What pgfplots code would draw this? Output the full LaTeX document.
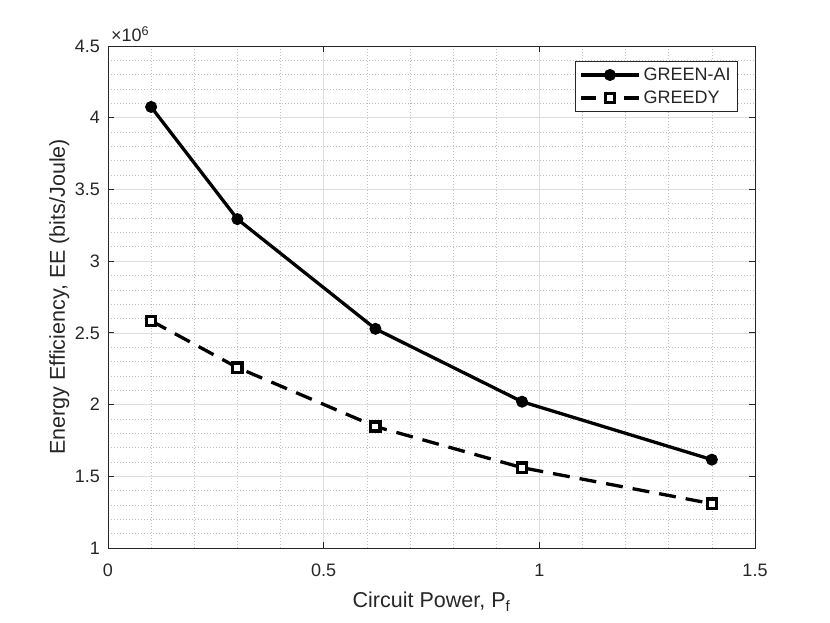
\documentclass[border=0pt]{standalone}
\usepackage{pgfplots}
\pgfplotsset{compat=1.18}
\usepackage{fontspec}
\setmainfont{Liberation Sans}
\definecolor{axc}{HTML}{262626}
\pgfplotsset{
  greedy legend/.style={legend image code/.code={%
    \draw[##1, solid] (0bp,0bp)--(15bp,0bp);
    \draw[##1, solid] (43bp,0bp)--(58bp,0bp);
    \draw[##1] plot coordinates {(29bp,0bp)};}},
}
\begin{document}
\begin{tikzpicture}
\useasboundingbox (0,0) rectangle (830bp,623bp);
\begin{axis}[
  at={(108bp,75bp)}, anchor=south west,
  width=647bp, height=502bp, scale only axis,
  xmin=0, xmax=1.5, ymin=1, ymax=4.5,
  xtick={0,0.5,1,1.5}, ytick={1,1.5,2,2.5,3,3.5,4,4.5},
  minor x tick num=4, minor y tick num=4,
  grid=both,
  major grid style={color=black!13, line width=0.6bp},
  minor grid style={color=black!25, line width=0.6bp, dash pattern=on 1bp off 2bp},
  axis line style={color=axc, line width=0.8bp},
  tick style={color=axc, line width=0.8bp},
  major tick length=6bp, minor tick length=0bp,
  tick align=inside,
  clip=false,
  /pgf/number format/assume math mode=true,
  ticklabel style={font=\fontsize{18bp}{20bp}\selectfont, text=axc},
  xticklabel style={anchor=north, inner sep=0pt, yshift=-16bp},
  yticklabel style={anchor=east, inner sep=0pt, xshift=-8bp},
  xlabel={Circuit Power, P\textsubscript{f}},
  xlabel style={at={(axis description cs:0.5,-0.1195)}, anchor=base, font=\fontsize{21.5bp}{25bp}\selectfont, text=axc},
  ylabel={Energy Efficiency, EE (bits/Joule)},
  ylabel style={at={(axis description cs:-0.0665,0.5)}, anchor=base, font=\fontsize{21.5bp}{25bp}\selectfont, text=axc},
  legend style={at={(rel axis cs:0.973,0.97)}, anchor=north east, draw=axc, line width=0.8bp,
    font=\fontsize{18bp}{20bp}\selectfont, text=axc, inner xsep=3.5bp, inner ysep=3.5bp, row sep=3bp,
    nodes={inner sep=3bp}},
  legend cell align=left,
  legend image code/.code={\draw[#1, mark repeat=2, mark phase=2] plot coordinates {(0bp,0bp) (29bp,0bp) (58bp,0bp)};},
]
\addplot[color=black, line width=3.3bp, mark=*, mark size=5.5bp, mark options={solid, line width=1bp}]
  coordinates {(0.1,4.075) (0.3,3.293) (0.62,2.528) (0.96,2.02) (1.4,1.616)};
\addlegendentry{GREEN-AI}
\addplot[color=black, line width=3.3bp, dash pattern=on 17bp off 10bp, mark=square*, mark size=4.6bp, mark options={solid, fill=white, line width=3.3bp}, greedy legend]
  coordinates {(0.1,2.584) (0.3,2.258) (0.62,1.847) (0.96,1.56) (1.4,1.309)};
\addlegendentry{GREEDY}
\node[anchor=base west, inner sep=0pt, font=\fontsize{18bp}{20bp}\selectfont, text=axc] at (rel axis cs:0,1) [xshift=3bp, yshift=4bp] {×10\textsuperscript{6}};
\end{axis}
\end{tikzpicture}
\end{document}
